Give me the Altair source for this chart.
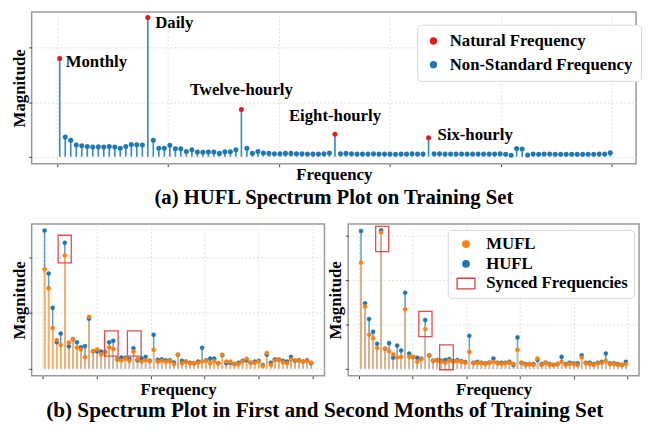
import altair as alt
import pandas as pd

FONT = "Liberation Serif"
BLUE = "#1f77b4"
ORANGE = "#ff7f0e"
BLUE_STEM_TOP = "#3d8ac4"
BLUE_STEM = "#5b9dd1"
ORANGE_STEM = "#ffad66"
RED_DOT = "#e41a1c"
RED_BOX = "#e03a3a"

# ---------------- (a) HUFL spectrum on training set ----------------
top_idx = list(range(1, 102))
top_mag = [
    3.60, 0.72, 0.60, 0.43, 0.40, 0.37, 0.35, 0.36, 0.35, 0.37,
    0.35, 0.31, 0.37, 0.45, 0.44, 0.43, 5.10, 0.60, 0.31, 0.31,
    0.42, 0.29, 0.29, 0.19, 0.25, 0.17, 0.16, 0.17, 0.17, 0.12,
    0.18, 0.18, 0.25, 1.73, 0.31, 0.12, 0.19, 0.13, 0.12, 0.11,
    0.11, 0.12, 0.12, 0.11, 0.11, 0.10, 0.10, 0.10, 0.11, 0.13,
    0.82, 0.11, 0.12, 0.11, 0.10, 0.10, 0.10, 0.11, 0.10, 0.10,
    0.10, 0.09, 0.10, 0.10, 0.11, 0.10, 0.10, 0.69, 0.11, 0.11,
    0.10, 0.10, 0.10, 0.10, 0.10, 0.10, 0.10, 0.10, 0.10, 0.10,
    0.11, 0.09, 0.05, 0.30, 0.28, 0.06, 0.10, 0.09, 0.10, 0.10,
    0.09, 0.09, 0.09, 0.09, 0.09, 0.09, 0.09, 0.09, 0.10, 0.10,
    0.14,
]
natural_idx = [1, 17, 34, 51, 68]
natural_names = ["Monthly", "Daily", "Twelve-hourly", "Eight-hourly", "Six-hourly"]
top_types = ["Natural Frequency", "Non-Standard Frequency"]
top_x_ticks = [0.5, 20.65, 40.8, 60.95, 81.1, 101.25]
top_y_ticks = [0, 1, 2, 3, 4, 5]

# ---------------- (b) first / second month spectra ----------------
bot_idx = list(range(1, 68))
hufl_m1 = [4.98, 3.43, 2.19, 0.95, 1.26, 4.54, 0.80, 1.06, 0.95, 0.77,
           0.81, 1.80, 0.62, 0.62, 0.61, 0.60, 0.95, 1.00, 0.34, 0.40,
           0.39, 0.34, 0.73, 0.30, 0.36, 0.42, 0.28, 1.22, 0.32, 0.33,
           0.30, 0.30, 0.22, 0.50, 0.28, 0.25, 0.21, 0.19, 0.25, 0.75,
           0.30, 0.36, 0.36, 0.19, 0.48, 0.19, 0.21, 0.16, 0.21, 0.28,
           0.30, 0.21, 0.25, 0.28, 0.13, 0.50, 0.21, 0.33, 0.32, 0.28,
           0.25, 0.42, 0.28, 0.30, 0.25, 0.30, 0.19]
mufl_m1 = [3.58, 2.90, 1.46, 1.03, 0.85, 4.08, 0.94, 1.06, 0.76, 0.68,
           0.41, 1.87, 0.62, 0.69, 0.51, 0.60, 0.76, 0.70, 0.32, 0.29,
           0.35, 0.28, 0.61, 0.34, 0.25, 0.30, 0.28, 0.68, 0.25, 0.28,
           0.25, 0.27, 0.16, 0.50, 0.19, 0.25, 0.19, 0.19, 0.21, 0.25,
           0.28, 0.19, 0.27, 0.19, 0.50, 0.25, 0.25, 0.16, 0.16, 0.25,
           0.35, 0.21, 0.21, 0.25, 0.09, 0.56, 0.13, 0.30, 0.33, 0.23,
           0.19, 0.33, 0.30, 0.28, 0.25, 0.28, 0.21]
hufl_m2 = [6.22, 2.96, 2.25, 1.67, 1.13, 6.25, 0.91, 1.16, 0.50, 1.05,
           0.83, 3.43, 0.69, 0.54, 0.50, 0.47, 2.20, 0.61, 0.37, 0.40,
           0.37, 0.40, 0.44, 0.35, 0.40, 0.35, 0.31, 1.49, 0.28, 0.32,
           0.28, 0.25, 0.29, 0.47, 0.28, 0.28, 0.28, 0.32, 0.18, 1.42,
           0.28, 0.22, 0.22, 0.22, 0.40, 0.22, 0.28, 0.22, 0.18, 0.22,
           0.54, 0.22, 0.28, 0.25, 0.25, 0.61, 0.28, 0.28, 0.22, 0.28,
           0.32, 0.69, 0.25, 0.25, 0.22, 0.18, 0.32]
mufl_m2 = [4.79, 2.81, 1.54, 1.38, 0.94, 6.15, 0.91, 0.79, 0.66, 0.51,
           0.54, 2.69, 0.54, 0.54, 0.32, 0.44, 1.79, 0.59, 0.37, 0.37,
           0.32, 0.28, 0.37, 0.32, 0.35, 0.32, 0.28, 0.76, 0.25, 0.28,
           0.25, 0.22, 0.28, 0.32, 0.25, 0.22, 0.25, 0.28, 0.22, 0.86,
           0.25, 0.18, 0.22, 0.18, 0.47, 0.18, 0.28, 0.18, 0.18, 0.22,
           0.32, 0.18, 0.22, 0.22, 0.18, 0.51, 0.25, 0.22, 0.18, 0.25,
           0.28, 0.37, 0.22, 0.22, 0.18, 0.18, 0.22]
series_names = ["MUFL", "HUFL", "Synced Frequencies"]
# synced-frequency boxes (x from/to in frequency index, y from/to in magnitude)
box_m1_x1 = [4.35, 15.85, 21.5]
box_m1_x2 = [7.6, 19.2, 24.9]
box_m1_y1 = [3.81, 0.45, 0.45]
box_m1_y2 = [4.81, 1.36, 1.36]
box_m2_x1 = [4.65, 15.4, 20.6]
box_m2_x2 = [7.9, 18.7, 24.0]
box_m2_y1 = [5.29, 1.45, -0.04]
box_m2_y2 = [6.43, 2.59, 1.08]
bot_x_ticks = [0.42, 13.82, 27.22, 40.62, 54.02, 67.42]
m1_y_ticks = [0, 1, 2, 3, 4, 5]
m2_y_ticks = [0, 1, 2, 3, 4, 5, 6]

FS = 17  # axis titles, annotations, legend labels


def x_axis(values, title_y):
    return alt.Axis(title="Frequency", values=values, labels=False, ticks=True,
                    tickSize=3, tickColor="#444", domain=False, grid=True,
                    gridColor="#d8d8d8", gridDash=[2, 2], gridWidth=0.8,
                    titleFont=FONT, titleFontSize=FS, titleFontWeight="bold",
                    titleColor="black", titleBaseline="alphabetic", titleY=title_y)


def y_axis(values):
    return alt.Axis(title="Magnitude", values=values, labels=False, ticks=True,
                    tickSize=3, tickColor="#444", domain=False, grid=True,
                    gridColor="#d8d8d8", gridDash=[2, 2], gridWidth=0.8,
                    titleFont=FONT, titleFontSize=FS, titleFontWeight="bold",
                    titleColor="black", titlePadding=0)


# ---------- top chart ----------
top_df = pd.DataFrame({"idx": top_idx, "mag": top_mag})
top_df["base"] = 0.0
top_df["type"] = [top_types[0] if i in natural_idx else top_types[1] for i in top_idx]

xs_top = alt.Scale(domain=[-4.1, 105.7], nice=False, zero=False)
ys_top = alt.Scale(domain=[-0.26, 5.31], nice=False, zero=False)

top_base = alt.Chart(top_df)
top_stems = top_base.mark_rule(color=BLUE_STEM_TOP, strokeWidth=1.7).encode(
    x=alt.X("idx:Q", scale=xs_top, axis=x_axis(top_x_ticks, 16)),
    y=alt.Y("base:Q", scale=ys_top, axis=y_axis(top_y_ticks)),
    y2="mag:Q",
)
top_dots = top_base.mark_circle(size=26, opacity=1).encode(
    x=alt.X("idx:Q", scale=xs_top),
    y=alt.Y("mag:Q", scale=ys_top),
    color=alt.Color("type:N", scale=alt.Scale(domain=top_types, range=[RED_DOT, BLUE]),
                    legend=alt.Legend(orient="none", legendX=391, legendY=13, title=None,
                                      fillColor="white", strokeColor="#d6d6d6",
                                      cornerRadius=4, padding=8,
                                      labelFont=FONT, labelFontSize=FS,
                                      labelFontWeight="bold", labelColor="black",
                                      labelLimit=400,
                                      symbolType="circle", symbolSize=55,
                                      symbolStrokeWidth=0, labelOffset=8,
                                      rowPadding=6)),
)

label_df = pd.DataFrame({
    "name": natural_names,
    "idx": natural_idx,
    "mag": [top_mag[top_idx.index(i)] for i in natural_idx],
})
label_style = {
    "Monthly": ("left", 6, 4),
    "Daily": ("left", 7.5, 6),
    "Twelve-hourly": ("center", 0, -20),
    "Eight-hourly": ("center", 0, -18),
    "Six-hourly": ("left", 9, -3),
}
label_layers = []
for nm in natural_names:
    al, dx, dy = label_style[nm]
    label_layers.append(
        alt.Chart(label_df).transform_filter(alt.datum.name == nm)
        .mark_text(align=al, baseline="middle", dx=dx, dy=dy, font=FONT,
                   fontSize=FS, fontWeight="bold", color="black")
        .encode(x=alt.X("idx:Q", scale=xs_top), y=alt.Y("mag:Q", scale=ys_top),
                text="name:N")
    )

top_chart = alt.layer(top_stems, top_dots, *label_layers).properties(
    width=613, height=154,
    title=alt.TitleParams("(a) HUFL Spectrum Plot on Training Set", orient="bottom",
                          anchor="middle", frame="group", font=FONT, fontSize=21,
                          fontWeight="bold", color="black", offset=5),
)

# ---------- bottom panels ----------
xs_bot = alt.Scale(domain=[-2.2, 70.3], nice=False, zero=False)
rect_path = "M-2.7,-1.6H2.7V1.6H-2.7Z"


def panel(hufl, mufl, bx1, bx2, by1, by2, ydom, yticks, show_legend, w):
    ys = alt.Scale(domain=ydom, nice=False, zero=False)
    df = pd.DataFrame({
        "idx": bot_idx + bot_idx,
        "mag": hufl + mufl,
        "series": ["HUFL"] * len(bot_idx) + ["MUFL"] * len(bot_idx),
    })
    df["base"] = 0.0
    base = alt.Chart(df)
    blue_stems = base.transform_filter(alt.datum.series == "HUFL").mark_rule(
        color=BLUE_STEM, strokeWidth=1.5).encode(
        x=alt.X("idx:Q", scale=xs_bot, axis=x_axis(bot_x_ticks, 19.5)),
        y=alt.Y("base:Q", scale=ys, axis=y_axis(yticks)),
        y2="mag:Q",
    )
    orange_stems = base.transform_filter(alt.datum.series == "MUFL").mark_rule(
        color=ORANGE_STEM, strokeWidth=1.5).encode(
        x=alt.X("idx:Q", scale=xs_bot), y=alt.Y("base:Q", scale=ys), y2="mag:Q",
    )
    if show_legend:
        leg = alt.Legend(orient="none", legendX=101, legendY=6, title=None,
                         fillColor="white", strokeColor="#d6d6d6", cornerRadius=4,
                         padding=6, labelFont=FONT, labelFontSize=FS,
                         labelFontWeight="bold", labelColor="black", labelLimit=400,
                         symbolSize=45, symbolStrokeWidth=1.3, symbolOffset=4,
                         labelOffset=12, rowPadding=2)
    else:
        leg = None
    dots = base.mark_point(filled=True, size=17, opacity=1, strokeWidth=0.5).encode(
        x=alt.X("idx:Q", scale=xs_bot),
        y=alt.Y("mag:Q", scale=ys),
        fill=alt.Fill("series:N", scale=alt.Scale(domain=series_names,
                      range=[ORANGE, BLUE, "transparent"]), legend=leg),
        stroke=alt.Stroke("series:N", scale=alt.Scale(domain=series_names,
                          range=[ORANGE, BLUE, RED_BOX]), legend=leg),
        shape=alt.Shape("series:N", scale=alt.Scale(domain=series_names,
                        range=["circle", "circle", rect_path]), legend=leg),
        order=alt.Order("series:N", sort="ascending"),
    )
    box_df = pd.DataFrame({"x1": bx1, "x2": bx2, "y1": by1, "y2": by2})
    boxes = alt.Chart(box_df).mark_rect(fillOpacity=0, stroke=RED_BOX,
                                        strokeWidth=1.3, opacity=0.9).encode(
        x=alt.X("x1:Q", scale=xs_bot), x2="x2:Q",
        y=alt.Y("y1:Q", scale=ys), y2="y2:Q",
    )
    return alt.layer(blue_stems, orange_stems, dots, boxes).properties(
        width=w, height=154)


left = panel(hufl_m1, mufl_m1, box_m1_x1, box_m1_x2, box_m1_y1, box_m1_y2,
             [-0.26, 5.22], m1_y_ticks, False, 297)
right = panel(hufl_m2, mufl_m2, box_m2_x1, box_m2_x2, box_m2_y1, box_m2_y2,
              [-0.31, 6.54], m2_y_ticks, True, 295)

bottom = alt.hconcat(left, right, spacing=0).resolve_scale(
    x="independent", y="independent", fill="independent",
    stroke="independent", shape="independent",
).properties(
    title=alt.TitleParams("(b) Spectrum Plot in First and Second Months of Training Set",
                          orient="bottom", anchor="middle", font=FONT, fontSize=21.5,
                          fontWeight="bold", color="black", offset=2)
)

chart = alt.vconcat(top_chart, bottom, spacing=14).resolve_scale(
    x="independent", y="independent", color="independent",
    fill="independent", stroke="independent", shape="independent",
).properties(
    padding={"left": 1, "top": 0, "right": 0, "bottom": 0},
).configure(font=FONT).configure_view(stroke="#999999", strokeWidth=1.5)

chart.save("out.html", embed_options={"renderer": "svg", "actions": False})
